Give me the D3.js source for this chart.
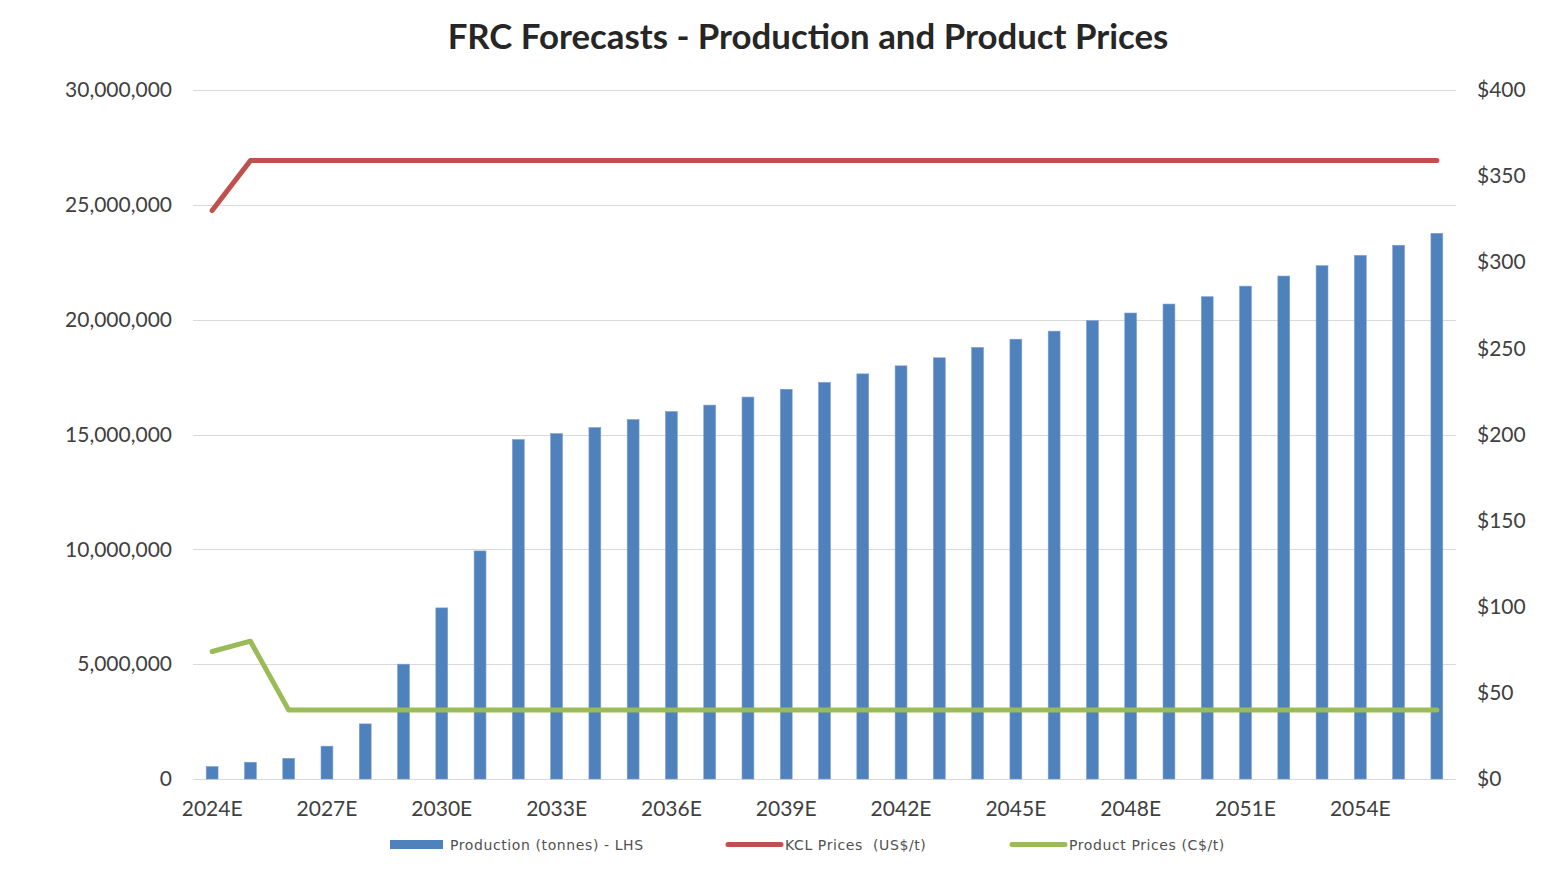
<!DOCTYPE html>
<html>
<head>
<meta charset="utf-8">
<script src="https://cdn.jsdelivr.net/npm/d3@7"></script>
<style>
  html, body { margin: 0; padding: 0; background: #fff; }
  svg { display: block; }
</style>
</head>
<body>
<svg id="chart" width="1568" height="888"></svg>
<script>
const years = ["2024E","2025E","2026E","2027E","2028E","2029E","2030E","2031E","2032E","2033E","2034E","2035E","2036E","2037E","2038E","2039E","2040E","2041E","2042E","2043E","2044E","2045E","2046E","2047E","2048E","2049E","2050E","2051E","2052E","2053E","2054E","2055E","2056E"];
const production = [540000, 730000, 900000, 1430000, 2400000, 5000000, 7450000, 9930000, 14780000, 15040000, 15300000, 15650000, 16000000, 16280000, 16630000, 16970000, 17270000, 17640000, 17990000, 18340000, 18790000, 19150000, 19500000, 19960000, 20290000, 20680000, 21000000, 21460000, 21900000, 22350000, 22800000, 23240000, 23760000];
const kclPrices = [330, 359, 359, 359, 359, 359, 359, 359, 359, 359, 359, 359, 359, 359, 359, 359, 359, 359, 359, 359, 359, 359, 359, 359, 359, 359, 359, 359, 359, 359, 359, 359, 359];
const productPrices = [74, 80, 40, 40, 40, 40, 40, 40, 40, 40, 40, 40, 40, 40, 40, 40, 40, 40, 40, 40, 40, 40, 40, 40, 40, 40, 40, 40, 40, 40, 40, 40, 40];
const leftTicks = [0, 5000000, 10000000, 15000000, 20000000, 25000000, 30000000];
const rightTicks = [0, 50, 100, 150, 200, 250, 300, 350, 400];
const xTickLabels = ["2024E","2027E","2030E","2033E","2036E","2039E","2042E","2045E","2048E","2051E","2054E"];
const seriesNames = ["Production (tonnes) - LHS", "KCL Prices  (US$/t)", "Product Prices (C$/t)"];
const seriesColors = ["#4F81BD", "#C0504D", "#9BBB59"];
const titleText = "FRC Forecasts - Production and Product Prices";

const svg = d3.select("#chart");
const plotLeft = 193, plotRight = 1456, plotTop = 90, plotBottom = 779;

const x = d3.scaleBand().domain(years).range([plotLeft, plotRight]).paddingInner(0.69).paddingOuter(0.345);
const yL = d3.scaleLinear().domain([0, 30000000]).range([plotBottom, plotTop]);
const yR = d3.scaleLinear().domain([0, 400]).range([plotBottom, plotTop]);
const cx = d => x(d) + x.bandwidth() / 2;

const font = "Lato, 'Open Sans', sans-serif";
const axisFontSize = 21;

// title
svg.append("text")
  .attr("x", 808).attr("y", 49)
  .attr("text-anchor", "middle")
  .attr("font-family", font)
  .attr("font-weight", "bold")
  .attr("font-size", 34.8)
  .attr("fill", "#262626")
  .text(titleText);

// gridlines
svg.append("g").selectAll("line").data(leftTicks).join("line")
  .attr("x1", plotLeft).attr("x2", plotRight)
  .attr("y1", d => Math.round(yL(d)) + 0.5).attr("y2", d => Math.round(yL(d)) + 0.5)
  .attr("stroke", "#d9d9d9").attr("stroke-width", 1);

// left axis
const axL = d3.axisLeft(yL).tickValues(leftTicks).tickFormat(d3.format(",")).tickSize(0).tickPadding(21);
const gL = svg.append("g").attr("transform", `translate(${plotLeft},0)`).call(axL);
gL.select(".domain").remove();
gL.selectAll("text").attr("font-family", font).attr("font-size", axisFontSize).attr("fill", "#404040");

// right axis
const axR = d3.axisRight(yR).tickValues(rightTicks).tickFormat(d => "$" + d).tickSize(0).tickPadding(21);
const gR = svg.append("g").attr("transform", `translate(${plotRight},0)`).call(axR);
gR.select(".domain").remove();
gR.selectAll("text").attr("font-family", font).attr("font-size", axisFontSize).attr("fill", "#404040");

// x axis
const axX = d3.axisBottom(x).tickValues(xTickLabels).tickSize(0).tickPadding(22);
const gX = svg.append("g").attr("transform", `translate(0,${plotBottom})`).call(axX);
gX.select(".domain").remove();
gX.selectAll("text").attr("font-family", font).attr("font-size", axisFontSize).attr("fill", "#404040");

// bars
svg.append("g").selectAll("rect").data(years).join("rect")
  .attr("x", d => x(d))
  .attr("width", x.bandwidth())
  .attr("y", (d, i) => yL(production[i]))
  .attr("height", (d, i) => plotBottom - yL(production[i]))
  .attr("fill", seriesColors[0])
  .attr("stroke", "#7f9fd0").attr("stroke-width", 0.6);

// lines
const lineR = d3.line().x((d, i) => cx(years[i])).y(d => yR(d));
svg.append("path").datum(kclPrices).attr("d", lineR)
  .attr("fill", "none").attr("stroke", seriesColors[1]).attr("stroke-width", 5)
  .attr("stroke-linecap", "round").attr("stroke-linejoin", "round");
svg.append("path").datum(productPrices).attr("d", lineR)
  .attr("fill", "none").attr("stroke", seriesColors[2]).attr("stroke-width", 5)
  .attr("stroke-linecap", "round").attr("stroke-linejoin", "round");

// legend
const legendX = [390, 726, 1010];
const lg = svg.append("g");
seriesNames.forEach((name, i) => {
  if (i === 0) {
    lg.append("rect").attr("x", legendX[i]).attr("y", 840).attr("width", 53).attr("height", 9).attr("fill", seriesColors[i]);
  } else {
    lg.append("line").attr("x1", legendX[i] + 2).attr("x2", legendX[i] + 55).attr("y1", 844.5).attr("y2", 844.5)
      .attr("stroke", seriesColors[i]).attr("stroke-width", 5).attr("stroke-linecap", "round");
  }
  lg.append("text").attr("x", legendX[i] + (i === 0 ? 60 : 59)).attr("y", 849.5)
    .attr("font-family", "'DejaVu Sans', sans-serif")
    .attr("font-size", 14).attr("letter-spacing", 0.6).attr("fill", "#505050")
    .attr("xml:space", "preserve")
    .text(name);
});
</script>
</body>
</html>
